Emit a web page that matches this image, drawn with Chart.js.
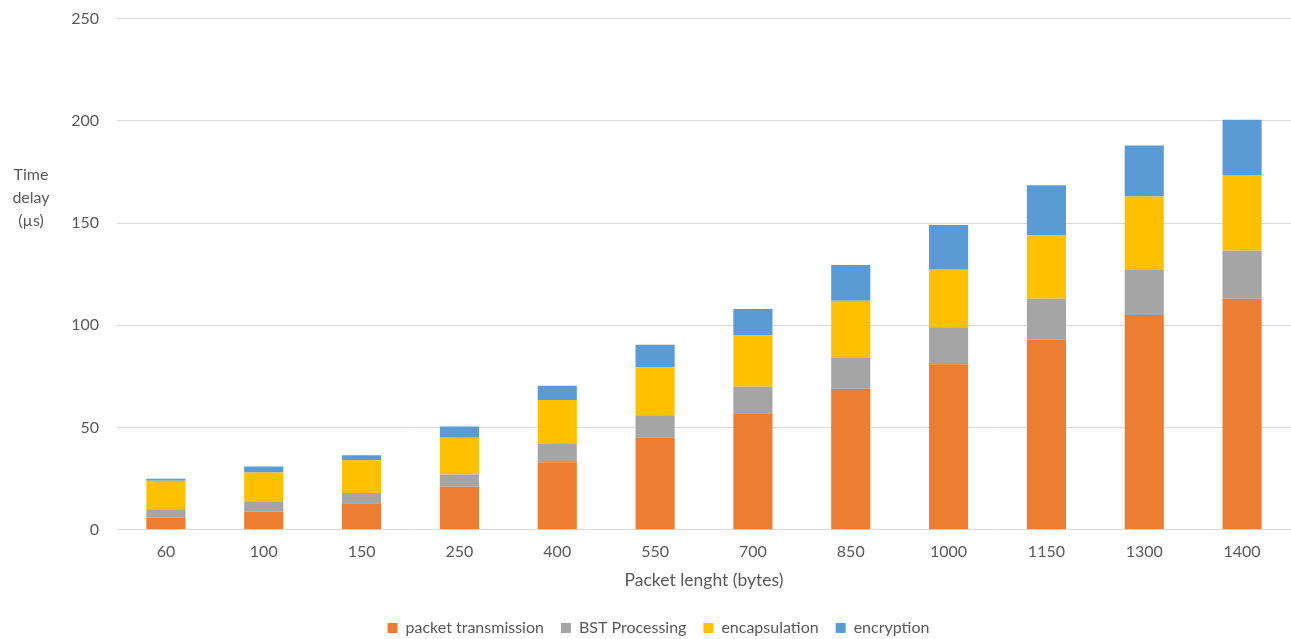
<!DOCTYPE html>
<html>
<head>
<meta charset="utf-8">
<script src="https://cdn.jsdelivr.net/npm/chart.js@4"></script>
<style>
  html, body { margin: 0; padding: 0; background: #fff; }
  #wrap { width: 1291px; height: 639px; position: relative; overflow: hidden; }
  #inner { position: absolute; left: 0; top: -9px; width: 1291px; height: 648px; }
</style>
</head>
<body>
<div id="wrap"><div id="inner"><canvas id="chart"></canvas></div></div>
<script>
const categories = ['60', '100', '150', '250', '400', '550', '700', '850', '1000', '1150', '1300', '1400'];
const packetTransmission = [6, 9, 13, 21, 33, 45, 57, 69, 81, 93, 105, 113];
const bstProcessing = [4, 5, 5, 6, 9, 11, 13, 15, 18, 20, 22, 23.5];
const encapsulation = [14, 14, 16, 18, 21.5, 23.5, 25, 28, 28.5, 31, 36, 37];
const encryption = [1, 3, 2.5, 5.5, 7, 11, 13, 17.5, 21.5, 24.5, 25, 27];
const yTicks = [0, 50, 100, 150, 200, 250];

const FONT = 'Lato, "Open Sans", sans-serif';
const TEXT = '#595959';

// titre de l'axe Y, horizontal, à gauche (le canvas est décalé de 9px vers le haut)
const yTitlePlugin = {
  id: 'yTitle',
  afterDraw(chart) {
    const ctx = chart.ctx;
    ctx.save();
    ctx.fillStyle = TEXT;
    ctx.font = '16px ' + FONT;
    ctx.textAlign = 'center';
    ctx.textBaseline = 'middle';
    ['Time', 'delay', '(µs)'].forEach((line, i) => {
      ctx.fillText(line, 31, 184 + i * 23);
    });
    ctx.restore();
  }
};

const bar = (label, data, color) => ({
  label, data, backgroundColor: color,
  barPercentage: 0.4, categoryPercentage: 1.0
});

new Chart(document.getElementById('chart'), {
  type: 'bar',
  data: {
    labels: categories,
    datasets: [
      bar('packet transmission', packetTransmission, '#ED7D31'),
      bar('BST Processing', bstProcessing, '#A5A5A5'),
      bar('encapsulation', encapsulation, '#FFC000'),
      bar('encryption', encryption, '#5B9BD5')
    ]
  },
  options: {
    responsive: true,
    maintainAspectRatio: false,
    animation: false,
    layout: { padding: { top: 0, right: 0, bottom: -7, left: 26 } },
    scales: {
      x: {
        stacked: true,
        grid: { display: false },
        border: { display: false },
        ticks: { color: TEXT, font: { family: FONT, size: 16 }, padding: 4 },
        title: {
          display: true, text: 'Packet lenght (bytes)', color: TEXT,
          font: { family: FONT, size: 17.5 }, padding: { top: 5, bottom: 12 }
        }
      },
      y: {
        stacked: true,
        min: 0, max: 250,
        afterFit(scale) { scale.width = 91; },
        afterBuildTicks(scale) { scale.ticks = yTicks.map(v => ({ value: v })); },
        grid: { color: '#d9d9d9', drawTicks: false },
        border: { display: false },
        ticks: { color: TEXT, font: { family: FONT, size: 16 }, padding: 18 }
      }
    },
    plugins: {
      legend: {
        position: 'bottom',
        labels: {
          color: TEXT, font: { family: FONT, size: 16 },
          boxWidth: 10, boxHeight: 10, padding: 17
        }
      },
      tooltip: { enabled: false }
    }
  },
  plugins: [yTitlePlugin]
});
</script>
</body>
</html>
